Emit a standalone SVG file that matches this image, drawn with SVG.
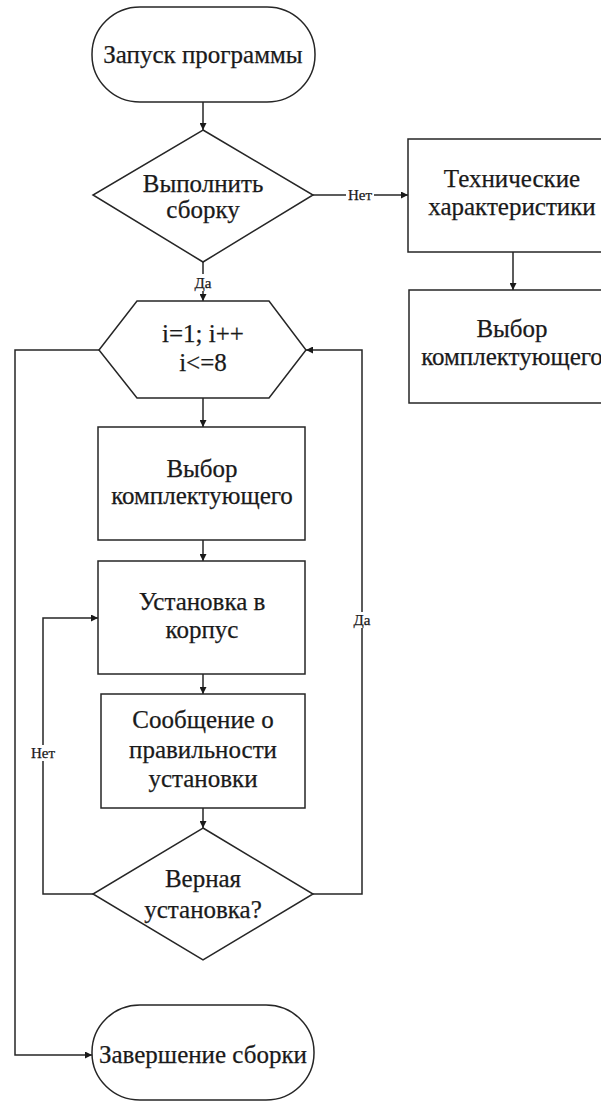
<svg xmlns="http://www.w3.org/2000/svg" width="601" height="1102" viewBox="0 0 601 1102" font-family="'Liberation Serif', 'Times New Roman', serif">
<defs>
<style>
.s{fill:#fff;stroke:#262626;stroke-width:1.5}
.c{fill:none;stroke:#262626;stroke-width:1.5}
text{font-family:'Liberation Serif','Times New Roman',serif;fill:#1a1a1a;text-anchor:middle}
.t{font-size:25px;stroke:#1a1a1a;stroke-width:0.25}
.l{font-size:15px;stroke:#1a1a1a;stroke-width:0.25}
.bg{fill:#fff;stroke:none}
</style>
<marker id="a" viewBox="0 0 10 10" refX="10" refY="5" markerWidth="8" markerHeight="7" markerUnits="userSpaceOnUse" orient="auto">
<path d="M0,0 L10,5 L0,10 z" fill="#1a1a1a"/>
</marker>
</defs>
<rect width="601" height="1102" fill="#fff"/>
<g id="connectors">
<line class="c" x1="203" y1="102" x2="203" y2="130" marker-end="url(#a)"/>
<line class="c" x1="203" y1="262" x2="203" y2="301" marker-end="url(#a)"/>
<line class="c" x1="313" y1="195" x2="408" y2="195" marker-end="url(#a)"/>
<line class="c" x1="513" y1="252" x2="513" y2="290" marker-end="url(#a)"/>
<line class="c" x1="203" y1="398" x2="203" y2="427" marker-end="url(#a)"/>
<line class="c" x1="203" y1="540" x2="203" y2="561" marker-end="url(#a)"/>
<line class="c" x1="203" y1="674" x2="203" y2="694" marker-end="url(#a)"/>
<line class="c" x1="203" y1="808" x2="203" y2="828" marker-end="url(#a)"/>
<polyline class="c" points="93,894 43,894 43,618 98,618" marker-end="url(#a)"/>
<polyline class="c" points="313,894 362,894 362,350 306,350" marker-end="url(#a)"/>
<polyline class="c" points="99,350 15,350 15,1055 92,1055" marker-end="url(#a)"/>
<rect class="bg" x="192" y="274" width="22" height="17"/>
<text class="l" x="203" y="288">Да</text>
<rect class="bg" x="346" y="187" width="28" height="16"/>
<text class="l" x="360" y="200">Нет</text>
<rect class="bg" x="29" y="745" width="28" height="16"/>
<text class="l" x="43" y="758">Нет</text>
<rect class="bg" x="352" y="612" width="21" height="16"/>
<text class="l" x="362" y="625">Да</text>
</g>
<g id="start">
<rect class="s" x="92" y="7" width="223" height="95" rx="48" ry="47"/>
<text class="t" x="203" y="63">Запуск программы</text>
</g>
<g id="decision1">
<polygon class="s" points="203,130 313,195 203,262 93,195"/>
<text class="t" x="203" y="192">Выполнить</text>
<text class="t" x="203" y="218">сборку</text>
</g>
<g id="tech">
<rect class="s" x="408" y="139" width="210" height="113"/>
<text class="t" x="512" y="187">Технические</text>
<text class="t" x="512" y="215">характеристики</text>
</g>
<g id="choice2">
<rect class="s" x="409" y="290" width="210" height="113"/>
<text class="t" x="512" y="337">Выбор</text>
<text class="t" x="512" y="365">комплектующего</text>
</g>
<g id="loop">
<polygon class="s" points="137,301 269,301 306,350 269,398 137,398 99,350"/>
<text class="t" x="203" y="342">i=1; i++</text>
<text class="t" x="203" y="371">i&lt;=8</text>
</g>
<g id="choice1">
<rect class="s" x="98" y="427" width="207" height="113"/>
<text class="t" x="202" y="477">Выбор</text>
<text class="t" x="202" y="504">комплектующего</text>
</g>
<g id="install">
<rect class="s" x="98" y="561" width="207" height="113"/>
<text class="t" x="202" y="610">Установка в</text>
<text class="t" x="202" y="638">корпус</text>
</g>
<g id="message">
<rect class="s" x="101" y="694" width="204" height="114"/>
<text class="t" x="203" y="728">Сообщение о</text>
<text class="t" x="203" y="758">правильности</text>
<text class="t" x="203" y="787">установки</text>
</g>
<g id="decision2">
<polygon class="s" points="203,828 313,894 203,960 93,894"/>
<text class="t" x="203" y="887">Верная</text>
<text class="t" x="203" y="918">установка?</text>
</g>
<g id="end">
<rect class="s" x="92" y="1005" width="222" height="95" rx="48" ry="47"/>
<text class="t" x="203" y="1063">Завершение сборки</text>
</g>
</svg>
